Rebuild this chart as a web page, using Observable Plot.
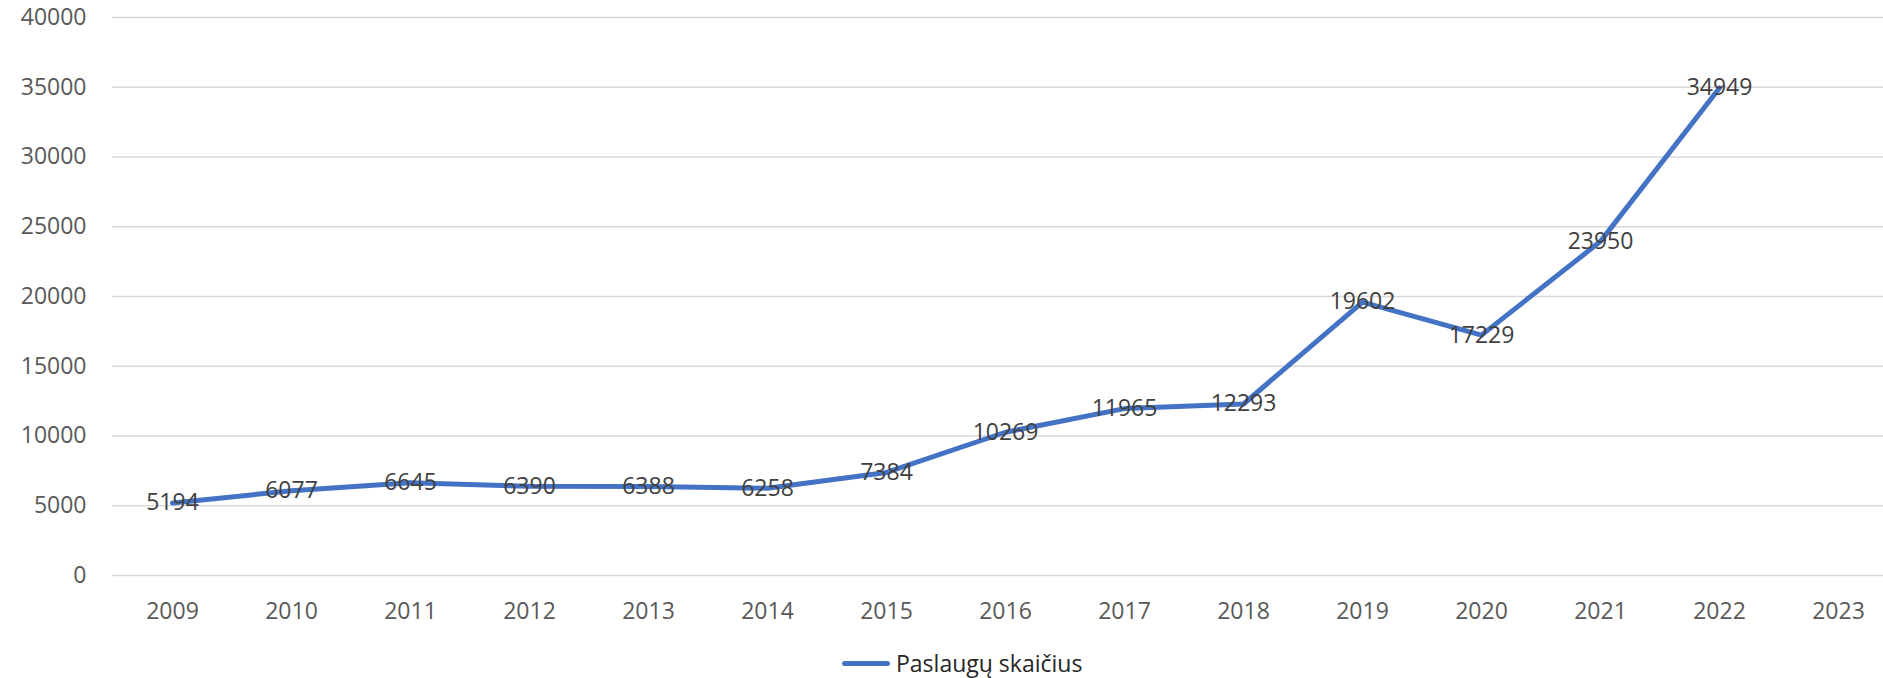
<!DOCTYPE html>
<html>
<head>
<meta charset="utf-8">
<script src="https://cdn.jsdelivr.net/npm/d3@7"></script>
<script src="https://cdn.jsdelivr.net/npm/@observablehq/plot@0.6"></script>
<style>
  html, body { margin: 0; padding: 0; background: #fff; }
  body { width: 1883px; height: 678px; position: relative; overflow: hidden; font-family: "Open Sans", sans-serif; }
  #legend { position: absolute; left: 842px; top: 645px; height: 36px; display: flex; align-items: center; }
  #legend .sw { width: 48px; height: 5px; background: #4472C4; border-radius: 3px; margin-right: 6px; }
  #legend span { font-size: 23px; color: #262626; }
</style>
</head>
<body>
<div id="chart"></div>
<div id="legend"><div class="sw"></div><span>Paslaugų skaičius</span></div>
<script>
const years = ["2009","2010","2011","2012","2013","2014","2015","2016","2017","2018","2019","2020","2021","2022","2023"];
const lineYears = ["2009","2010","2011","2012","2013","2014","2015","2016","2017","2018","2019","2020","2021","2022"];
const values = [5194, 6077, 6645, 6390, 6388, 6258, 7384, 10269, 11965, 12293, 19602, 17229, 23950, 34949];
const yTicks = [0, 5000, 10000, 15000, 20000, 25000, 30000, 35000, 40000];
const seriesName = "Paslaugų skaičius";

const data = lineYears.map((y, i) => ({year: y, value: values[i], series: seriesName}));

const chart = Plot.plot({
  width: 1883,
  height: 632,
  marginLeft: 112,
  marginRight: 0,
  marginTop: 0,
  marginBottom: 0,
  style: { fontFamily: "Open Sans, sans-serif", fontSize: "23px", background: "#fff", overflow: "visible" },
  x: { type: "point", domain: years, range: [171.7, 1838.6], padding: 0 },
  y: { domain: [0, 40000], range: [575, 17] },
  marks: [
    Plot.ruleY(yTicks, { stroke: "#d9d9d9", strokeWidth: 1.5 }),
    Plot.axisY(yTicks, { tickSize: 0, tickPadding: 26, fill: "#595959", fontSize: 23, label: null, tickFormat: d => String(d) }),
    Plot.axisX(years, { tickSize: 0, tickPadding: 0, dy: -21, lineAnchor: "middle", fill: "#595959", fontSize: 23, label: null, anchor: "bottom", textAnchor: "middle" }),
    Plot.line(data, { x: "year", y: "value", stroke: "#4472C4", strokeWidth: 5, strokeLinecap: "round", strokeLinejoin: "round" }),
    Plot.text(data, { x: "year", y: "value", text: d => String(d.value), fill: "#404040", fontSize: 23 })
  ]
});
document.getElementById("chart").appendChild(chart);
</script>
</body>
</html>
